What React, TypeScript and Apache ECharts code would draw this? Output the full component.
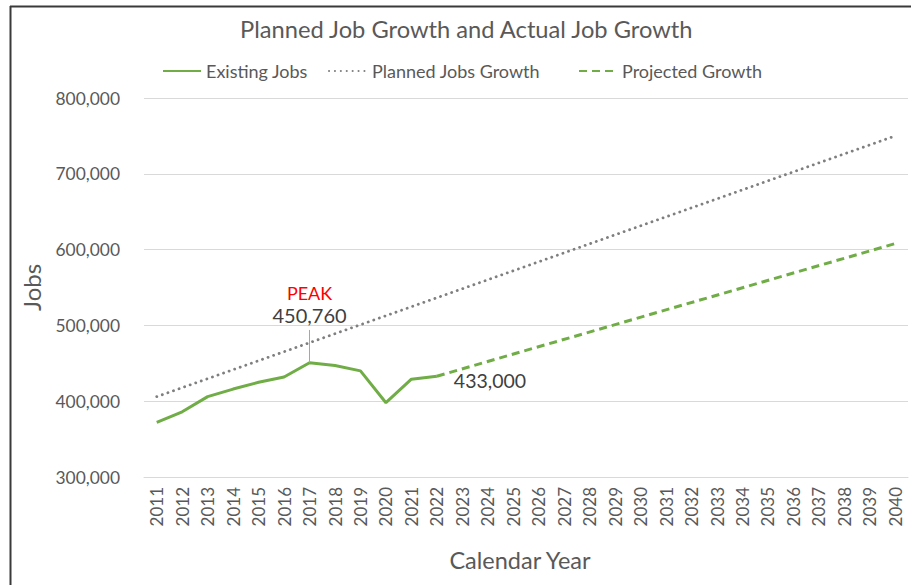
import React, { useEffect, useRef } from "react";
import * as echarts from "echarts";

const years: string[] = [
  "2011", "2012", "2013", "2014", "2015", "2016", "2017", "2018", "2019", "2020",
  "2021", "2022", "2023", "2024", "2025", "2026", "2027", "2028", "2029", "2030",
  "2031", "2032", "2033", "2034", "2035", "2036", "2037", "2038", "2039", "2040",
];

// Existing jobs (2011–2022)
const existingJobs: (number | null)[] = [
  372000, 386000, 406000, 416000, 425000, 432000, 450760, 447000, 440000, 398000,
  429000, 433000,
];

// Planned growth: straight line between its two end values
const plannedStart = 406000;
const plannedEnd = 750000;

// Projected growth: straight line from 2022 to 2040
const projectedStart = 433000;
const projectedEnd = 608000;

const seriesNames: string[] = ["Existing Jobs", "Planned Jobs Growth", "Projected Growth"];

const peakIndex = 6;
const lastActualIndex = 11;
const peakLeaderTop = 494000;

const textColor = "#595959";
const green = "#70ad47";
const grey = "#7f7f7f";
const font = "Lato, 'Open Sans', sans-serif";

export default function App() {
  const ref = useRef<HTMLDivElement>(null);

  useEffect(() => {
    if (!ref.current) return;
    const chart = echarts.init(ref.current, undefined, { renderer: "svg" });

    const n = years.length;
    const planned: (number | null)[] = years.map((_, i) =>
      i === 0 ? plannedStart : i === n - 1 ? plannedEnd : null
    );
    const projected: (number | null)[] = years.map((_, i) =>
      i === lastActualIndex ? projectedStart : i === n - 1 ? projectedEnd : null
    );

    const fmt = (v: number) => v.toLocaleString("en-US");

    const legendLefts = [162, 328, 578];
    const legends = seriesNames.map((name, i) => ({
      top: 62,
      left: legendLefts[i],
      padding: 0,
      itemWidth: 38,
      itemHeight: 14,
      itemStyle: { opacity: 0 },
      textStyle: { color: textColor, fontSize: 18, fontFamily: font },
      data: [name],
    }));

    chart.setOption({
      animation: false,
      backgroundColor: "#ffffff",
      title: {
        text: "Planned Job Growth and Actual Job Growth",
        left: 235,
        top: 12,
        textStyle: { color: textColor, fontSize: 23.7, fontWeight: "normal", fontFamily: font },
      },
      legend: legends,
      grid: { left: 144, right: 3, top: 98, bottom: 108, containLabel: false },
      xAxis: {
        type: "category",
        data: years,
        boundaryGap: true,
        name: "Calendar Year",
        nameLocation: "middle",
        nameGap: 71,
        nameTextStyle: { color: textColor, fontSize: 23.5, fontFamily: font, padding: [0, 12, 0, 0] },
        axisLine: { show: true, lineStyle: { color: "#d9d9d9", width: 1 } },
        axisTick: { show: false },
        axisLabel: {
          rotate: 90,
          interval: 0,
          margin: 10,
          color: textColor,
          fontSize: 17,
          fontFamily: font,
        },
      },
      yAxis: {
        type: "value",
        min: 300000,
        max: 800000,
        interval: 100000,
        name: "Jobs",
        nameLocation: "middle",
        nameGap: 101,
        nameTextStyle: { color: textColor, fontSize: 24, fontFamily: font },
        axisLine: { show: false },
        axisTick: { show: false },
        splitLine: { lineStyle: { color: "#d9d9d9", width: 1 } },
        axisLabel: {
          margin: 24,
          color: textColor,
          fontSize: 17.4,
          fontFamily: font,
          formatter: fmt,
        },
      },
      graphic: [
        {
          type: "line",
          shape: { x1: 10, y1: 6.5, x2: 911, y2: 6.5 },
          style: { stroke: "#3a3a3a", lineWidth: 2 },
          z: 100,
        },
        {
          type: "line",
          shape: { x1: 10.5, y1: 6, x2: 10.5, y2: 585 },
          style: { stroke: "#3a3a3a", lineWidth: 2 },
          z: 100,
        },
      ],
      series: [
        {
          name: seriesNames[1],
          type: "line",
          data: planned,
          connectNulls: true,
          symbol: "none",
          z: 2,
          lineStyle: { color: grey, width: 2.8, type: [0.1, 5.8], cap: "round" },
          itemStyle: { color: grey },
        },
        {
          name: seriesNames[2],
          type: "line",
          data: projected,
          connectNulls: true,
          symbol: "none",
          z: 3,
          lineStyle: { color: green, width: 3, type: [8, 5] },
          itemStyle: { color: green },
        },
        {
          name: seriesNames[0],
          type: "line",
          data: existingJobs,
          symbol: "none",
          z: 4,
          lineStyle: { color: green, width: 3 },
          itemStyle: { color: green },
          markPoint: {
            silent: true,
            symbol: "circle",
            symbolSize: 2,
            itemStyle: { color: "rgba(0,0,0,0)" },
            data: [
              {
                coord: [years[peakIndex], existingJobs[peakIndex]],
                value: existingJobs[peakIndex],
                label: {
                  show: true,
                  position: "top",
                  distance: 36,
                  formatter: (p: any) => "{p|PEAK}\n{v|" + fmt(Number(p.value)) + "}",
                  rich: {
                    p: { color: "#ff0000", fontSize: 18, fontFamily: font, lineHeight: 22, align: "center" },
                    v: { color: "#404040", fontSize: 20, fontFamily: font, lineHeight: 22, align: "center" },
                  },
                },
              },
              {
                coord: [years[lastActualIndex], existingJobs[lastActualIndex]],
                value: existingJobs[lastActualIndex],
                label: {
                  show: true,
                  position: "right",
                  distance: 16,
                  offset: [0, 4],
                  formatter: (p: any) => fmt(Number(p.value)),
                  color: "#404040",
                  fontSize: 19.5,
                  fontFamily: font,
                },
              },
            ],
          },
          markLine: {
            silent: true,
            symbol: "none",
            label: { show: false },
            lineStyle: { color: "#a6a6a6", width: 1, type: "solid" },
            data: [
              [
                { coord: [years[peakIndex], existingJobs[peakIndex]] },
                { coord: [years[peakIndex], peakLeaderTop] },
              ],
            ],
          },
        },
      ],
    });

    return () => chart.dispose();
  }, []);

  return (
    <div
      ref={ref}
      style={{ position: "fixed", left: 0, top: 0, width: 911, height: 585, background: "#fff" }}
    />
  );
}
